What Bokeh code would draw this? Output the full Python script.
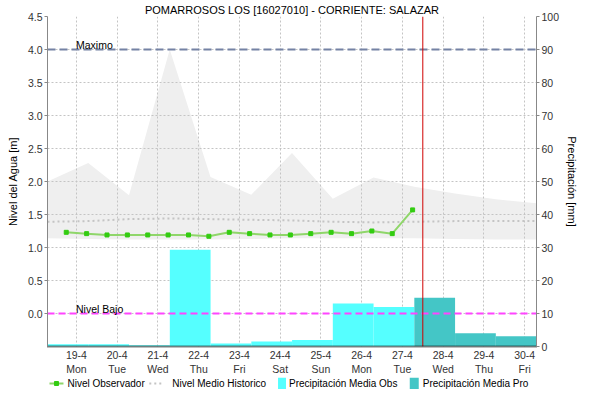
from bokeh.plotting import figure
from bokeh.layouts import column
from bokeh.models import (Range1d, LinearAxis, FixedTicker, PrintfTickFormatter,
                          ColumnDataSource)
from bokeh.embed import file_html
from bokeh.resources import INLINE
from bokeh.core.properties import value

# ---------------- data ----------------
TITLE = "POMARROSOS LOS [16027010] - CORRIENTE: SALAZAR"
Y_LABEL = "Nivel del Agua [m]"
Y2_LABEL = "Precipitación [mm]"

days = [19, 20, 21, 22, 23, 24, 25, 26, 27, 28, 29, 30]
day_labels = ["19-4", "20-4", "21-4", "22-4", "23-4", "24-4",
              "25-4", "26-4", "27-4", "28-4", "29-4", "30-4"]
weekday_labels = ["Mon", "Tue", "Wed", "Thu", "Fri", "Sat",
                  "Sun", "Mon", "Tue", "Wed", "Thu", "Fri"]

level_ticks = [0.0, 0.5, 1.0, 1.5, 2.0, 2.5, 3.0, 3.5, 4.0, 4.5]
precip_ticks = [0, 10, 20, 30, 40, 50, 60, 70, 80, 90, 100]

# observed level (every 12 h, in fractional days of April)
obs_times = [18.75, 19.25, 19.75, 20.25, 20.75, 21.25, 21.75, 22.25, 22.75,
             23.25, 23.75, 24.25, 24.75, 25.25, 25.75, 26.25, 26.75, 27.25]
obs_level = [1.23, 1.21, 1.19, 1.19, 1.19, 1.19, 1.19, 1.17, 1.23,
             1.21, 1.19, 1.19, 1.21, 1.23, 1.21, 1.25, 1.21, 1.57]

# historical envelope and mean (daily at 07:00)
hist_times = [18.29, 19.29, 20.29, 21.29, 22.29, 23.29, 24.29,
              25.29, 26.29, 27.29, 28.29, 29.29, 30.29]
hist_max = [2.00, 2.28, 1.79, 4.00, 2.07, 1.80, 2.43,
            1.74, 2.06, 1.92, 1.82, 1.73, 1.67]
hist_min = [1.14, 1.13, 1.12, 1.12, 1.12, 1.13, 1.14,
            1.14, 1.14, 1.14, 1.13, 1.12, 1.12]
hist_mean = [1.39, 1.40, 1.43, 1.44, 1.43, 1.42, 1.41,
             1.39, 1.38, 1.39, 1.40, 1.40, 1.40]

# daily precipitation [mm] (07:00 to 07:00, labelled by ending day)
precip_obs_days = [19, 20, 21, 22, 23, 24, 25, 26, 27]
precip_obs = [0.7, 0.7, 0.4, 29.3, 0.9, 1.5, 2.0, 13.0, 12.0]
precip_pro_days = [28, 29, 30]
precip_pro = [14.8, 4.0, 3.1]

level_max = 4.0
level_low = 0.0
now_time = 27.5
ref_labels = ["Maximo", "Nivel Bajo"]
ref_levels = [level_max, level_low]

legend_labels = ["Nivel Observador", "Nivel Medio Historico",
                 "Precipitación Media Obs", "Precipitación Media Pro"]

# ---------------- styles ----------------
FONT = "Liberation Sans"
X0, X1 = 18.29, 30.29
Y0, Y1 = -0.5, 4.5
DAY_START = 0.7083   # bar begins 07:00 previous day
DAY_END = 0.2917     # bar ends 07:00
C_OBS_LINE = "#8fd66a"
C_OBS_PT = "#33cc11"
C_MEAN = "#c4c4c4"
C_BAR_OBS = "#55ffff"
C_BAR_PRO = "#44c6c6"
W = 581
MAIN_H = 377
LH = 12
FRAME_W = 490        # width of the aligned plot frame (px) used by the legend strip

# ---------------- main figure ----------------
p = figure(width=W, height=MAIN_H, x_range=Range1d(X0, X1), y_range=Range1d(Y0, Y1),
           output_backend="svg", toolbar_location=None,
           min_border_left=47, min_border_right=30, min_border_top=14,
           min_border_bottom=10, background_fill_color="white",
           border_fill_color="white", outline_line_color=None)
p.title.text = TITLE
p.title.align = "center"
p.title.text_font = FONT
p.title.text_font_size = "11px"
p.title.text_font_style = "normal"
p.title.text_color = "black"
p.title.standoff = 2
p.title.offset = 0

p.extra_y_ranges = {"precip": Range1d(0, 100)}

# historical envelope
band = p.varea(x=hist_times, y1=hist_min, y2=hist_max, fill_color="#efefef")
band.level = "image"

# precipitation bars
obs_src = ColumnDataSource(dict(left=[d - DAY_START for d in precip_obs_days],
                                right=[d + DAY_END for d in precip_obs_days],
                                top=precip_obs, bottom=[0] * len(precip_obs)))
pro_src = ColumnDataSource(dict(left=[d - DAY_START for d in precip_pro_days],
                                right=[d + DAY_END for d in precip_pro_days],
                                top=precip_pro, bottom=[0] * len(precip_pro)))
p.quad(left="left", right="right", top="top", bottom="bottom", source=obs_src,
       y_range_name="precip", fill_color=C_BAR_OBS, line_color=None)
p.quad(left="left", right="right", top="top", bottom="bottom", source=pro_src,
       y_range_name="precip", fill_color=C_BAR_PRO, line_color=None)

# mean historical level
p.line(hist_times, hist_mean, line_color=C_MEAN, line_width=2, line_dash="2 3")

# observed level
p.line(obs_times, obs_level, line_color=C_OBS_LINE, line_width=2)
p.scatter(obs_times, obs_level, marker="square", size=4,
          fill_color=C_OBS_PT, line_color=C_OBS_PT)

# reference levels
p.segment(x0=[X0], x1=[X1], y0=[level_max], y1=[level_max], line_color="#7482a4",
          line_width=2, line_dash="8 4")
p.segment(x0=[X0], x1=[X1], y0=[level_low], y1=[level_low], line_color="#ff44ff",
          line_width=2, line_dash="7 4")
p.text(x=[X0 + 0.7] * len(ref_labels), y=ref_levels, text=ref_labels,
       text_font=value(FONT), text_font_size="10.5px", text_color="black",
       text_baseline="bottom", text_align="left", y_offset=1)

# "now" marker
p.segment(x0=[now_time], x1=[now_time], y0=[Y0], y1=[Y1], line_color="#d00000",
          line_width=1)

# ---------------- axes ----------------
xa = p.xaxis[0]
xa.ticker = FixedTicker(ticks=days)
xa.major_label_overrides = {d: f"{a}\n{b}" for d, a, b in zip(days, day_labels, weekday_labels)}
xa.axis_line_color = "black"
xa.axis_line_width = 2
xa.axis_line_dash = "1 1"
xa.major_tick_line_color = None
xa.minor_tick_line_color = None
xa.major_tick_out = 0
xa.major_tick_in = 0
xa.major_label_text_font = FONT
xa.major_label_text_font_size = "10.5px"
xa.major_label_text_color = "#333333"
xa.major_label_standoff = 2

ya = p.yaxis[0]
ya.ticker = FixedTicker(ticks=level_ticks)
ya.formatter = PrintfTickFormatter(format="%.1f")
ya.axis_label = Y_LABEL
ya.axis_label_standoff = 6

ra = LinearAxis(y_range_name="precip", ticker=FixedTicker(ticks=precip_ticks))
ra.axis_label = Y2_LABEL
ra.axis_label_standoff = 4
p.add_layout(ra, "right")

for ax in (ya, ra):
    ax.axis_line_color = "#888888"
    ax.major_tick_line_color = "#888888"
    ax.major_tick_in = 0
    ax.major_tick_out = 3
    ax.minor_tick_line_color = None
    ax.major_label_text_font = FONT
    ax.major_label_text_font_size = "10.5px"
    ax.major_label_text_color = "#333333"
    ax.major_label_standoff = 2
    ax.axis_label_text_font = FONT
    ax.axis_label_text_font_size = "11px"
    ax.axis_label_text_font_style = "normal"
    ax.axis_label_text_color = "black"

# grids
p.xgrid.ticker = FixedTicker(ticks=days)
p.ygrid.ticker = FixedTicker(ticks=level_ticks)
for g in (p.xgrid[0], p.ygrid[0]):
    g.grid_line_color = "#c4c4c4"
    g.grid_line_dash = "2 2"
    g.grid_line_width = 1

# ---------------- legend strip (small figure, frame aligned with the plot frame) ----------------
lg = figure(width=W, height=LH, x_range=Range1d(0, FRAME_W), y_range=Range1d(0, LH),
            output_backend="svg", toolbar_location=None, outline_line_color=None,
            title=None, x_axis_location=None, y_axis_location=None,
            min_border=0, min_border_left=0, min_border_right=0,
            min_border_top=0, min_border_bottom=0,
            background_fill_color="white", border_fill_color="white")
lg.grid.visible = False
legend_x = [2, 102, 231, 363]      # start of each legend entry (px in the strip)
mid = LH / 2
# entry 1: line + marker
lg.segment(x0=[legend_x[0]], x1=[legend_x[0] + 14], y0=[mid], y1=[mid],
           line_color=C_OBS_LINE, line_width=2)
lg.scatter(x=[legend_x[0] + 7], y=[mid], marker="square", size=4,
           fill_color=C_OBS_PT, line_color=C_OBS_PT)
# entry 2: dotted line
lg.segment(x0=[legend_x[1]], x1=[legend_x[1] + 14], y0=[mid], y1=[mid],
           line_color=C_MEAN, line_width=2, line_dash="2 3")
# entries 3 and 4: boxes
lg.quad(left=[legend_x[2], legend_x[3]], right=[legend_x[2] + 8, legend_x[3] + 9],
        bottom=[0, 0], top=[LH, LH],
        fill_color=[C_BAR_OBS, C_BAR_PRO], line_color=None)
text_x = [legend_x[0] + 18, legend_x[1] + 23, legend_x[2] + 11, legend_x[3] + 13]
lg.text(x=text_x, y=[mid] * 4, text=legend_labels, text_font=value(FONT),
        text_font_size="10px", text_color="black", text_baseline="middle",
        text_align="left")

layout = column(p, lg, spacing=0)
open("out.html", "w").write(file_html(layout, INLINE))
